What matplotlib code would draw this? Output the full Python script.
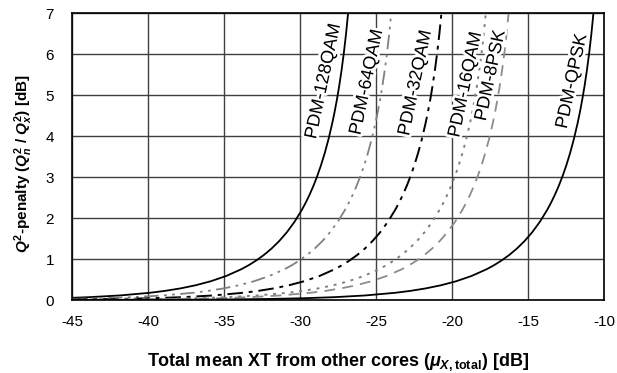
import matplotlib
matplotlib.use("Agg")
import matplotlib.pyplot as plt
import matplotlib.patheffects as pe

plt.rcParams['font.family'] = ['Liberation Sans', 'DejaVu Sans']
plt.rcParams['axes.unicode_minus'] = False
plt.rcParams['mathtext.fontset'] = 'custom'
plt.rcParams['mathtext.rm'] = 'Liberation Sans:bold'
plt.rcParams['mathtext.it'] = 'Liberation Sans:bold:italic'
plt.rcParams['mathtext.bf'] = 'Liberation Sans:bold'

# ---- data ----
x_128qam = [-45, -43.87, -41.87, -39.87, -38.87, -37.87, -36.87, -35.87, -34.87, -33.87, -33.37,
            -32.87, -32.37, -31.87, -31.37, -30.87, -30.37, -29.87, -29.62, -29.37, -29.12,
            -28.87, -28.62, -28.37, -28.12, -27.87, -27.72, -27.57, -27.42, -27.27, -27.12,
            -26.97, -26.82]
y_128qam = [0.0534, 0.0694, 0.1105, 0.1764, 0.2233, 0.2831, 0.3594, 0.4576, 0.5843, 0.7494, 0.8504,
            0.9666, 1.1006, 1.2563, 1.4378, 1.6509, 1.9031, 2.2048, 2.3785, 2.5702, 2.7831,
            3.0206, 3.2871, 3.5886, 3.9325, 4.3292, 4.5983, 4.8956, 5.2264, 5.5978, 6.0187,
            6.5024, 7.0670]

x_64qam = [-45, -43.03, -41.03, -39.03, -37.03, -36.03, -35.03, -34.03, -33.03, -32.03, -31.03,
           -30.53, -30.03, -29.53, -29.03, -28.53, -28.03, -27.53, -27.03, -26.78, -26.53,
           -26.28, -26.03, -25.78, -25.53, -25.28, -25.03, -24.88, -24.73, -24.58, -24.43,
           -24.28, -24.13, -23.98]
y_64qam = [0.0277, 0.0437, 0.0694, 0.1105, 0.1764, 0.2233, 0.2831, 0.3594, 0.4576, 0.5843, 0.7494,
           0.8504, 0.9666, 1.1006, 1.2563, 1.4378, 1.6509, 1.9031, 2.2048, 2.3785, 2.5702,
           2.7831, 3.0206, 3.2871, 3.5886, 3.9325, 4.3292, 4.5983, 4.8956, 5.2264, 5.5978,
           6.0187, 6.5024, 7.0670]

x_32qam = [-45, -43.73, -41.73, -39.73, -37.73, -35.73, -33.73, -32.73, -31.73, -30.73, -29.73,
           -28.73, -27.73, -27.23, -26.73, -26.23, -25.73, -25.23, -24.73, -24.23, -23.73,
           -23.48, -23.23, -22.98, -22.73, -22.48, -22.23, -21.98, -21.73, -21.58, -21.43,
           -21.28, -21.13, -20.98, -20.83, -20.68]
y_32qam = [0.0129, 0.0173, 0.0275, 0.0437, 0.0694, 0.1105, 0.1764, 0.2233, 0.2831, 0.3594, 0.4576,
           0.5843, 0.7494, 0.8504, 0.9666, 1.1006, 1.2563, 1.4378, 1.6509, 1.9031, 2.2048,
           2.3785, 2.5702, 2.7831, 3.0206, 3.2871, 3.5886, 3.9325, 4.3292, 4.5983, 4.8956,
           5.2264, 5.5978, 6.0187, 6.5024, 7.0670]

x_16qam = [-45, -44.81, -42.81, -40.81, -38.81, -36.81, -34.81, -32.81, -30.81, -29.81, -28.81,
           -27.81, -26.81, -25.81, -24.81, -24.31, -23.81, -23.31, -22.81, -22.31, -21.81,
           -21.31, -20.81, -20.56, -20.31, -20.06, -19.81, -19.56, -19.31, -19.06, -18.81,
           -18.66, -18.51, -18.36, -18.21, -18.06, -17.91, -17.76]
y_16qam = [0.0066, 0.0069, 0.0109, 0.0173, 0.0275, 0.0437, 0.0694, 0.1105, 0.1764, 0.2233, 0.2831,
           0.3594, 0.4576, 0.5843, 0.7494, 0.8504, 0.9666, 1.1006, 1.2563, 1.4378, 1.6509,
           1.9031, 2.2048, 2.3785, 2.5702, 2.7831, 3.0206, 3.2871, 3.5886, 3.9325, 4.3292,
           4.5983, 4.8956, 5.2264, 5.5978, 6.0187, 6.5024, 7.0670]

x_8psk = [-45, -43.31, -41.31, -39.31, -37.31, -35.31, -33.31, -31.31, -29.31, -28.31, -27.31,
          -26.31, -25.31, -24.31, -23.31, -22.81, -22.31, -21.81, -21.31, -20.81, -20.31,
          -19.81, -19.31, -19.06, -18.81, -18.56, -18.31, -18.06, -17.81, -17.56, -17.31,
          -17.16, -17.01, -16.86, -16.71, -16.56, -16.41, -16.26]
y_8psk = [0.0047, 0.0069, 0.0109, 0.0173, 0.0275, 0.0437, 0.0694, 0.1105, 0.1764, 0.2233, 0.2831,
          0.3594, 0.4576, 0.5843, 0.7494, 0.8504, 0.9666, 1.1006, 1.2563, 1.4378, 1.6509,
          1.9031, 2.2048, 2.3785, 2.5702, 2.7831, 3.0206, 3.2871, 3.5886, 3.9325, 4.3292,
          4.5983, 4.8956, 5.2264, 5.5978, 6.0187, 6.5024, 7.0670]

x_qpsk = [-45, -42.73, -39.73, -37.73, -35.73, -33.73, -31.73, -29.73, -27.73, -25.73, -23.73,
          -22.73, -21.73, -20.73, -19.73, -18.73, -17.73, -17.23, -16.73, -16.23, -15.73,
          -15.23, -14.73, -14.23, -13.73, -13.48, -13.23, -12.98, -12.73, -12.48, -12.23,
          -11.98, -11.73, -11.58, -11.43, -11.28, -11.13, -10.98, -10.83, -10.68]
y_qpsk = [0.0013, 0.0022, 0.0044, 0.0069, 0.0109, 0.0173, 0.0275, 0.0437, 0.0694, 0.1105, 0.1764,
          0.2233, 0.2831, 0.3594, 0.4576, 0.5843, 0.7494, 0.8504, 0.9666, 1.1006, 1.2563,
          1.4378, 1.6509, 1.9031, 2.2048, 2.3785, 2.5702, 2.7831, 3.0206, 3.2871, 3.5886,
          3.9325, 4.3292, 4.5983, 4.8956, 5.2264, 5.5978, 6.0187, 6.5024, 7.0670]

series_names = ['PDM-128QAM', 'PDM-64QAM', 'PDM-32QAM', 'PDM-16QAM', 'PDM-8PSK', 'PDM-QPSK']
label_x = [-28.45, -25.6, -22.4, -19.1, -17.45, -12.1]
label_y = [5.33, 5.31, 5.29, 5.25, 5.47, 5.33]

x_ticks = [-45, -40, -35, -30, -25, -20, -15, -10]
y_ticks = [0, 1, 2, 3, 4, 5, 6, 7]

# ---- figure ----
fig = plt.figure(figsize=(6.17, 3.73), dpi=100)
ax = fig.add_axes([0.1167, 0.1957, 0.8623, 0.7693])

ax.set_xlim(-45, -10)
ax.set_ylim(0, 7)
ax.set_xticks(x_ticks)
ax.set_yticks(y_ticks)
ax.tick_params(axis='x', length=0, labelsize=11, pad=11)
ax.tick_params(axis='y', length=0, labelsize=11, pad=13)
ax.grid(True, color='#404040', linewidth=1.0)
ax.set_axisbelow(True)
for s in ax.spines.values():
    s.set_color('black')
    s.set_linewidth(1.2)

styles = [
    dict(color='black', linestyle='-', linewidth=1.3),
    dict(color='#808080', linestyle=(0, (8, 3, 1.5, 3, 1.5, 3)), linewidth=1.3),
    dict(color='black', linestyle=(0, (8, 3, 2, 3)), linewidth=1.4),
    dict(color='#808080', linestyle=(0, (1.5, 3)), linewidth=1.4),
    dict(color='#8c8c8c', linestyle=(0, (6, 4)), linewidth=1.3),
    dict(color='black', linestyle='-', linewidth=1.3),
]
data = [(x_128qam, y_128qam), (x_64qam, y_64qam), (x_32qam, y_32qam),
        (x_16qam, y_16qam), (x_8psk, y_8psk), (x_qpsk, y_qpsk)]
for (xs, ys), st in zip(data, styles):
    ax.plot(xs, ys, **st)

for name, lx, ly in zip(series_names, label_x, label_y):
    ax.text(lx, ly, name, rotation=78, fontsize=13, ha='center', va='center',
            rotation_mode='anchor',
            path_effects=[pe.withStroke(linewidth=4, foreground='white')], zorder=5)

ax.set_xlabel(r'Total mean XT from other cores ($\mathit{\mu}_{\mathit{X}\mathrm{,total}}$) [dB]',
              fontsize=13, fontweight='bold', labelpad=16)
ax.set_ylabel(r'$\mathit{Q}^{2}$-penalty ($\mathit{Q}_{\mathit{n}}^{2}$ / $\mathit{Q}_{\mathit{x}}^{2}$) [dB]',
              fontsize=11, fontweight='bold', labelpad=10)
ax.yaxis.set_label_coords(-0.07, 0.475)

fig.savefig('out.png', dpi=100)
